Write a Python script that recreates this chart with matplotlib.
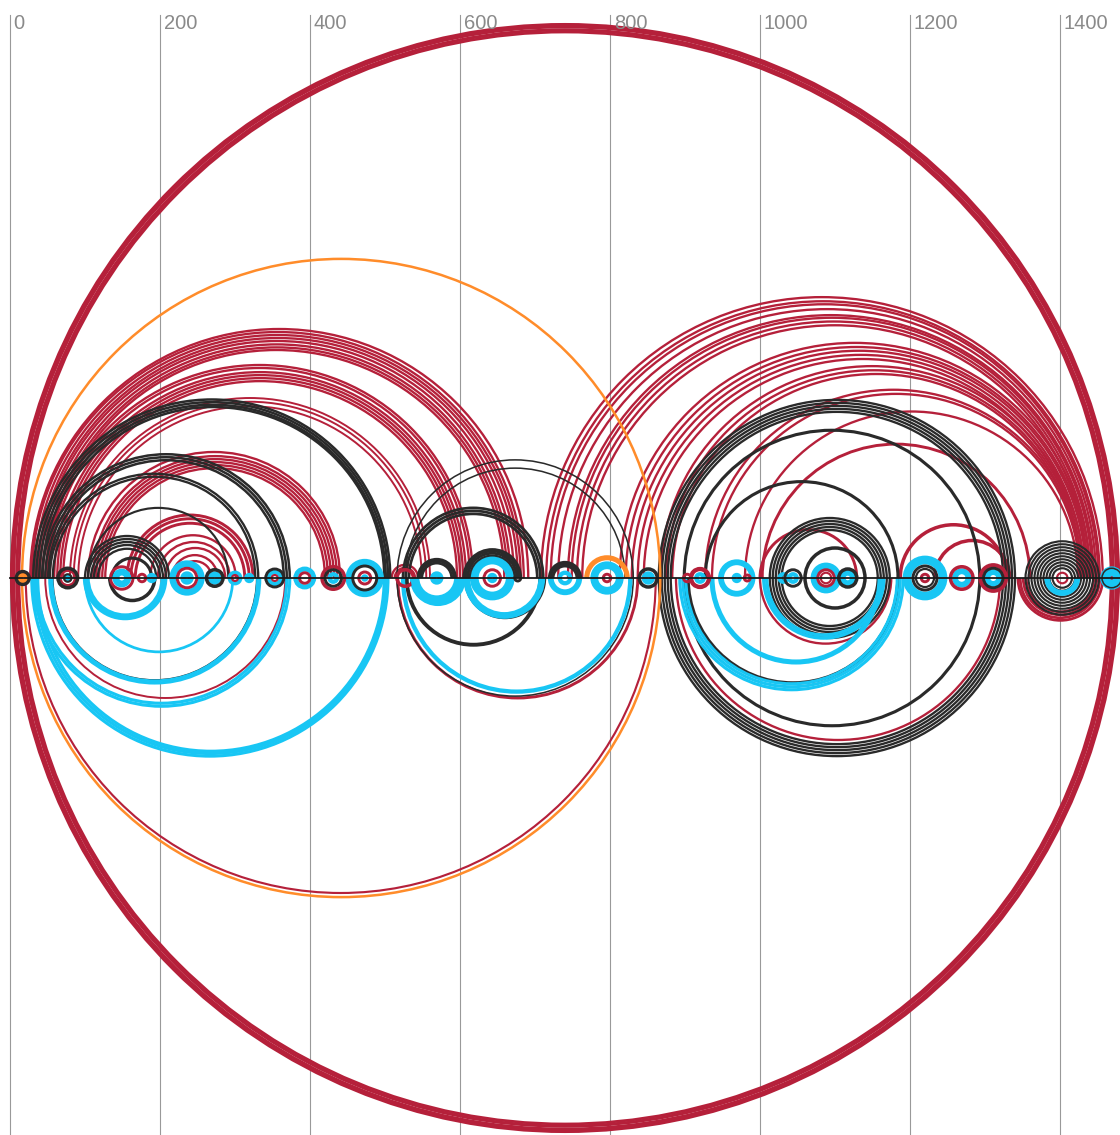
import matplotlib
matplotlib.use("Agg")
import matplotlib.pyplot as plt
from matplotlib.patches import Arc

RED = "#b5203a"
DARK = "#2a2a2a"
CYAN = "#18c6f4"
ORANGE = "#ff8c2a"

ticks = [0, 200, 400, 600, 800, 1000, 1200, 1400]

# links between positions: (start, end, weight)
red_both = [(2, 1478, 1.6), (5, 1475, 1.6), (9, 1471, 1.6), (12, 1468, 1.4)]
orange_both = [(16, 867, 1.3)]

red_up = [
    (27, 691, 1.2), (29, 685, 1.2), (33, 681, 1.2), (37, 677, 1.2),
    (40, 672, 1.2), (44, 667, 1.2), (48, 663, 1.2), (51, 659, 1.2),
    (49, 617, 1.2), (53, 613, 1.2), (59, 608, 1.2), (63, 604, 1.2),
    (67, 600, 1.2), (71, 596, 1.2),
    (80, 560, 1.0), (85, 555, 1.0), (91, 549, 1.0),
    (104, 440, 1.2), (111, 436, 1.2), (115, 432, 1.2), (119, 428, 1.2),
    (123, 424, 1.2), (127, 420, 1.2),
    (156, 324, 1.5), (161, 319, 1.5), (167, 313, 1.5),
    (187, 301, 1.2), (197, 293, 1.2), (207, 287, 1.2), (216, 277, 1.2),
    (224, 269, 1.2),
    (509, 544, 1.2), (513, 540, 1.2),
    (708, 1457, 1.2), (715, 1453, 1.2), (721, 1451, 1.2), (731, 1448, 1.2),
    (744, 1445, 1.2), (749, 1443, 1.2), (756, 1440, 1.2), (763, 1437, 1.2),
    (813, 1440, 1.2), (821, 1437, 1.2), (829, 1435, 1.2), (837, 1432, 1.2),
    (845, 1429, 1.2),
    (867, 1432, 1.2), (875, 1429, 1.2), (883, 1427, 1.2),
    (927, 1429, 1.2), (936, 1427, 1.2),
    (980, 1424, 1.2),
    (1003, 1360, 1.5), (1000, 1129, 1.5), (1187, 1329, 1.8), (1233, 1333, 1.8),
]
red_down = [
    (21, 861, 1.1), (47, 367, 1.0), (517, 837, 1.5), (888, 1320, 1.2),
    (1000, 1175, 1.2),
    (1344, 1457, 1.4), (1347, 1453, 1.4), (1351, 1449, 1.4), (1355, 1445, 1.4),
]

black_both = [
    (516, 831, 0.8),
    (865, 1340, 1.2), (869, 1336, 1.2), (873, 1332, 1.2), (877, 1328, 1.2),
    (881, 1324, 1.2),
    (899, 1293, 1.6),
    (1013, 1173, 1.2), (1017, 1169, 1.2), (1021, 1165, 1.2), (1025, 1161, 1.2),
    (1029, 1157, 1.2),
    (1060, 1140, 1.8),
]
black_up = [
    (31, 507, 1.3), (35, 504, 1.3), (39, 501, 1.3), (43, 499, 1.3),
    (43, 373, 1.3), (47, 369, 1.3), (51, 365, 1.3),
    (53, 331, 1.2), (57, 327, 1.2),
    (104, 291, 1.1),
    (100, 212, 1.2), (104, 208, 1.2), (108, 204, 1.2), (112, 200, 1.2),
    (117, 195, 1.2),
    (136, 189, 1.6),
    (527, 820, 0.8),
    (524, 711, 1.4), (528, 707, 1.4), (532, 703, 1.4),
    (927, 1184, 1.6),
]
black_down = [
    (57, 329, 0.9), (133, 193, 1.8), (529, 707, 2.0), (607, 713, 1.5),
    (904, 1184, 1.8),
]

cyan_down = [
    (29, 504, 1.6), (33, 501, 1.6), (37, 499, 1.6),
    (31, 373, 1.6), (35, 369, 1.6),
    (53, 333, 1.6), (56, 330, 1.4),
    (100, 297, 1.4),
    (100, 207, 2.2), (104, 203, 1.8),
    (524, 827, 2.2),
    (537, 604, 3.0), (609, 709, 3.5),
    (893, 1191, 1.6), (897, 1187, 1.6), (901, 1183, 1.6),
    (936, 1160, 2.6),
    (1005, 1165, 1.8), (1009, 1161, 1.8),
]

# node rings: (position, radius, weight)
black_rings = [
    (17, 8, 2.2), (77, 13, 1.8), (77, 5, 1.1), (273, 11, 1.8), (353, 12, 1.5),
    (431, 11, 1.5), (473, 16, 1.5), (677, 4, 1.5), (851, 12, 1.8),
    (1044, 11, 1.5), (1117, 12, 1.8), (1220, 16, 1.5), (1220, 12, 1.1),
    (1311, 13, 1.5),
    (1403, 13, 1.1), (1403, 17, 1.1), (1403, 21, 1.1), (1403, 25, 1.1),
    (1403, 29, 1.1), (1403, 33, 1.1), (1403, 37, 1.1), (1403, 41, 1.1),
    (1403, 45, 1.1), (1403, 49, 1.1),
    (1469, 13, 0.8),
]
black_rings_up = [
    (569, 24, 2.2), (569, 20, 1.5), (643, 37, 2.2), (643, 33, 1.5),
    (643, 30, 1.1), (740, 20, 2.2), (740, 16, 1.5),
]
red_rings = [
    (77, 10, 1.5), (149, 15, 1.5), (176, 5, 1.5), (236, 13, 1.5), (300, 4, 1.1),
    (353, 4, 1.1), (393, 7, 1.5), (431, 15, 1.8), (473, 8, 1.5), (527, 11, 1.8),
    (643, 11, 1.5), (796, 5, 1.5), (903, 5, 1.5), (920, 12, 2.2), (983, 4, 1.5),
    (1088, 11, 1.5), (1088, 7, 1.1), (1220, 5, 1.5), (1269, 15, 1.8),
    (1311, 17, 2.2), (1403, 7, 1.1),
]
cyan_rings = [
    (77, 3, 1.8), (149, 8, 3.5), (189, 4, 2.2), (236, 19, 3.5), (236, 5, 3.0),
    (273, 5, 3.0), (300, 7, 2.2), (319, 4, 2.2), (353, 8, 2.2), (393, 12, 2.5),
    (431, 5, 2.2), (473, 21, 3.5), (473, 3, 1.5), (569, 5, 3.0), (643, 24, 4.5),
    (643, 4, 2.2), (740, 7, 2.2), (796, 17, 4.0), (851, 5, 3.0), (920, 5, 2.2),
    (969, 21, 3.0), (969, 4, 2.2), (1031, 5, 2.2), (1044, 5, 2.2),
    (1088, 16, 3.5), (1117, 7, 3.0), (1220, 24, 4.5), (1269, 9, 3.0),
    (1311, 8, 3.0), (1469, 9, 5.0),
]
cyan_rings_down = [(569, 29, 4.5), (740, 19, 3.0), (1403, 20, 3.0)]
orange_rings = [(17, 4, 1.8)]
orange_rings_up = [(796, 27, 2.6)]

LW = 1.4


def draw_arc(ax, a, b, w, color, side, z):
    c = (a + b) / 2
    d = abs(b - a)
    if side in ("up", "both"):
        ax.add_patch(Arc((c, 0), d, d, theta1=0, theta2=180,
                         color=color, lw=w * LW, zorder=z))
    if side in ("down", "both"):
        ax.add_patch(Arc((c, 0), d, d, theta1=180, theta2=360,
                         color=color, lw=w * LW, zorder=z))


def draw_links(ax, links, color, side, z):
    for a, b, w in links:
        draw_arc(ax, a, b, w, color, side, z)


def draw_rings(ax, rings, color, side, z):
    for p, r, w in rings:
        draw_arc(ax, p - r, p + r, w, color, side, z)


fig = plt.figure(figsize=(11.2, 11.35), dpi=100)
ax = fig.add_axes([0, 0, 1, 1])
ax.set_xlim(-13.33, 1480)
ax.set_ylim(-742.7, 770.7)
ax.axis("off")

# vertical guides and labels along the top
for t in ticks:
    ax.plot([t, t], [-742.7, 750.7], color="#999999", lw=0.8, zorder=0)
    ax.text(t + 5, 739.0, str(t), ha="left", va="center", fontsize=14.5,
            color="#8a8a8a", family=["Liberation Sans", "DejaVu Sans"])

draw_links(ax, red_both, RED, "both", 1)
draw_links(ax, red_up, RED, "up", 1)
draw_links(ax, red_down, RED, "down", 1)
draw_links(ax, black_both, DARK, "both", 2)
draw_links(ax, black_up, DARK, "up", 2)
draw_links(ax, black_down, DARK, "down", 2)
draw_links(ax, cyan_down, CYAN, "down", 3)
draw_links(ax, orange_both, ORANGE, "both", 4)

draw_rings(ax, cyan_rings, CYAN, "both", 5)
draw_rings(ax, red_rings, RED, "both", 6)
draw_rings(ax, black_rings, DARK, "both", 6)
draw_rings(ax, black_rings_up, DARK, "up", 6)
draw_rings(ax, cyan_rings_down, CYAN, "down", 7)
draw_rings(ax, orange_rings, ORANGE, "both", 7)
draw_rings(ax, orange_rings_up, ORANGE, "up", 7)

# baseline
ax.plot([0, 1480], [0, 0], color="#1a1a1a", lw=1.3, zorder=8)

fig.savefig("out.png", dpi=100)
